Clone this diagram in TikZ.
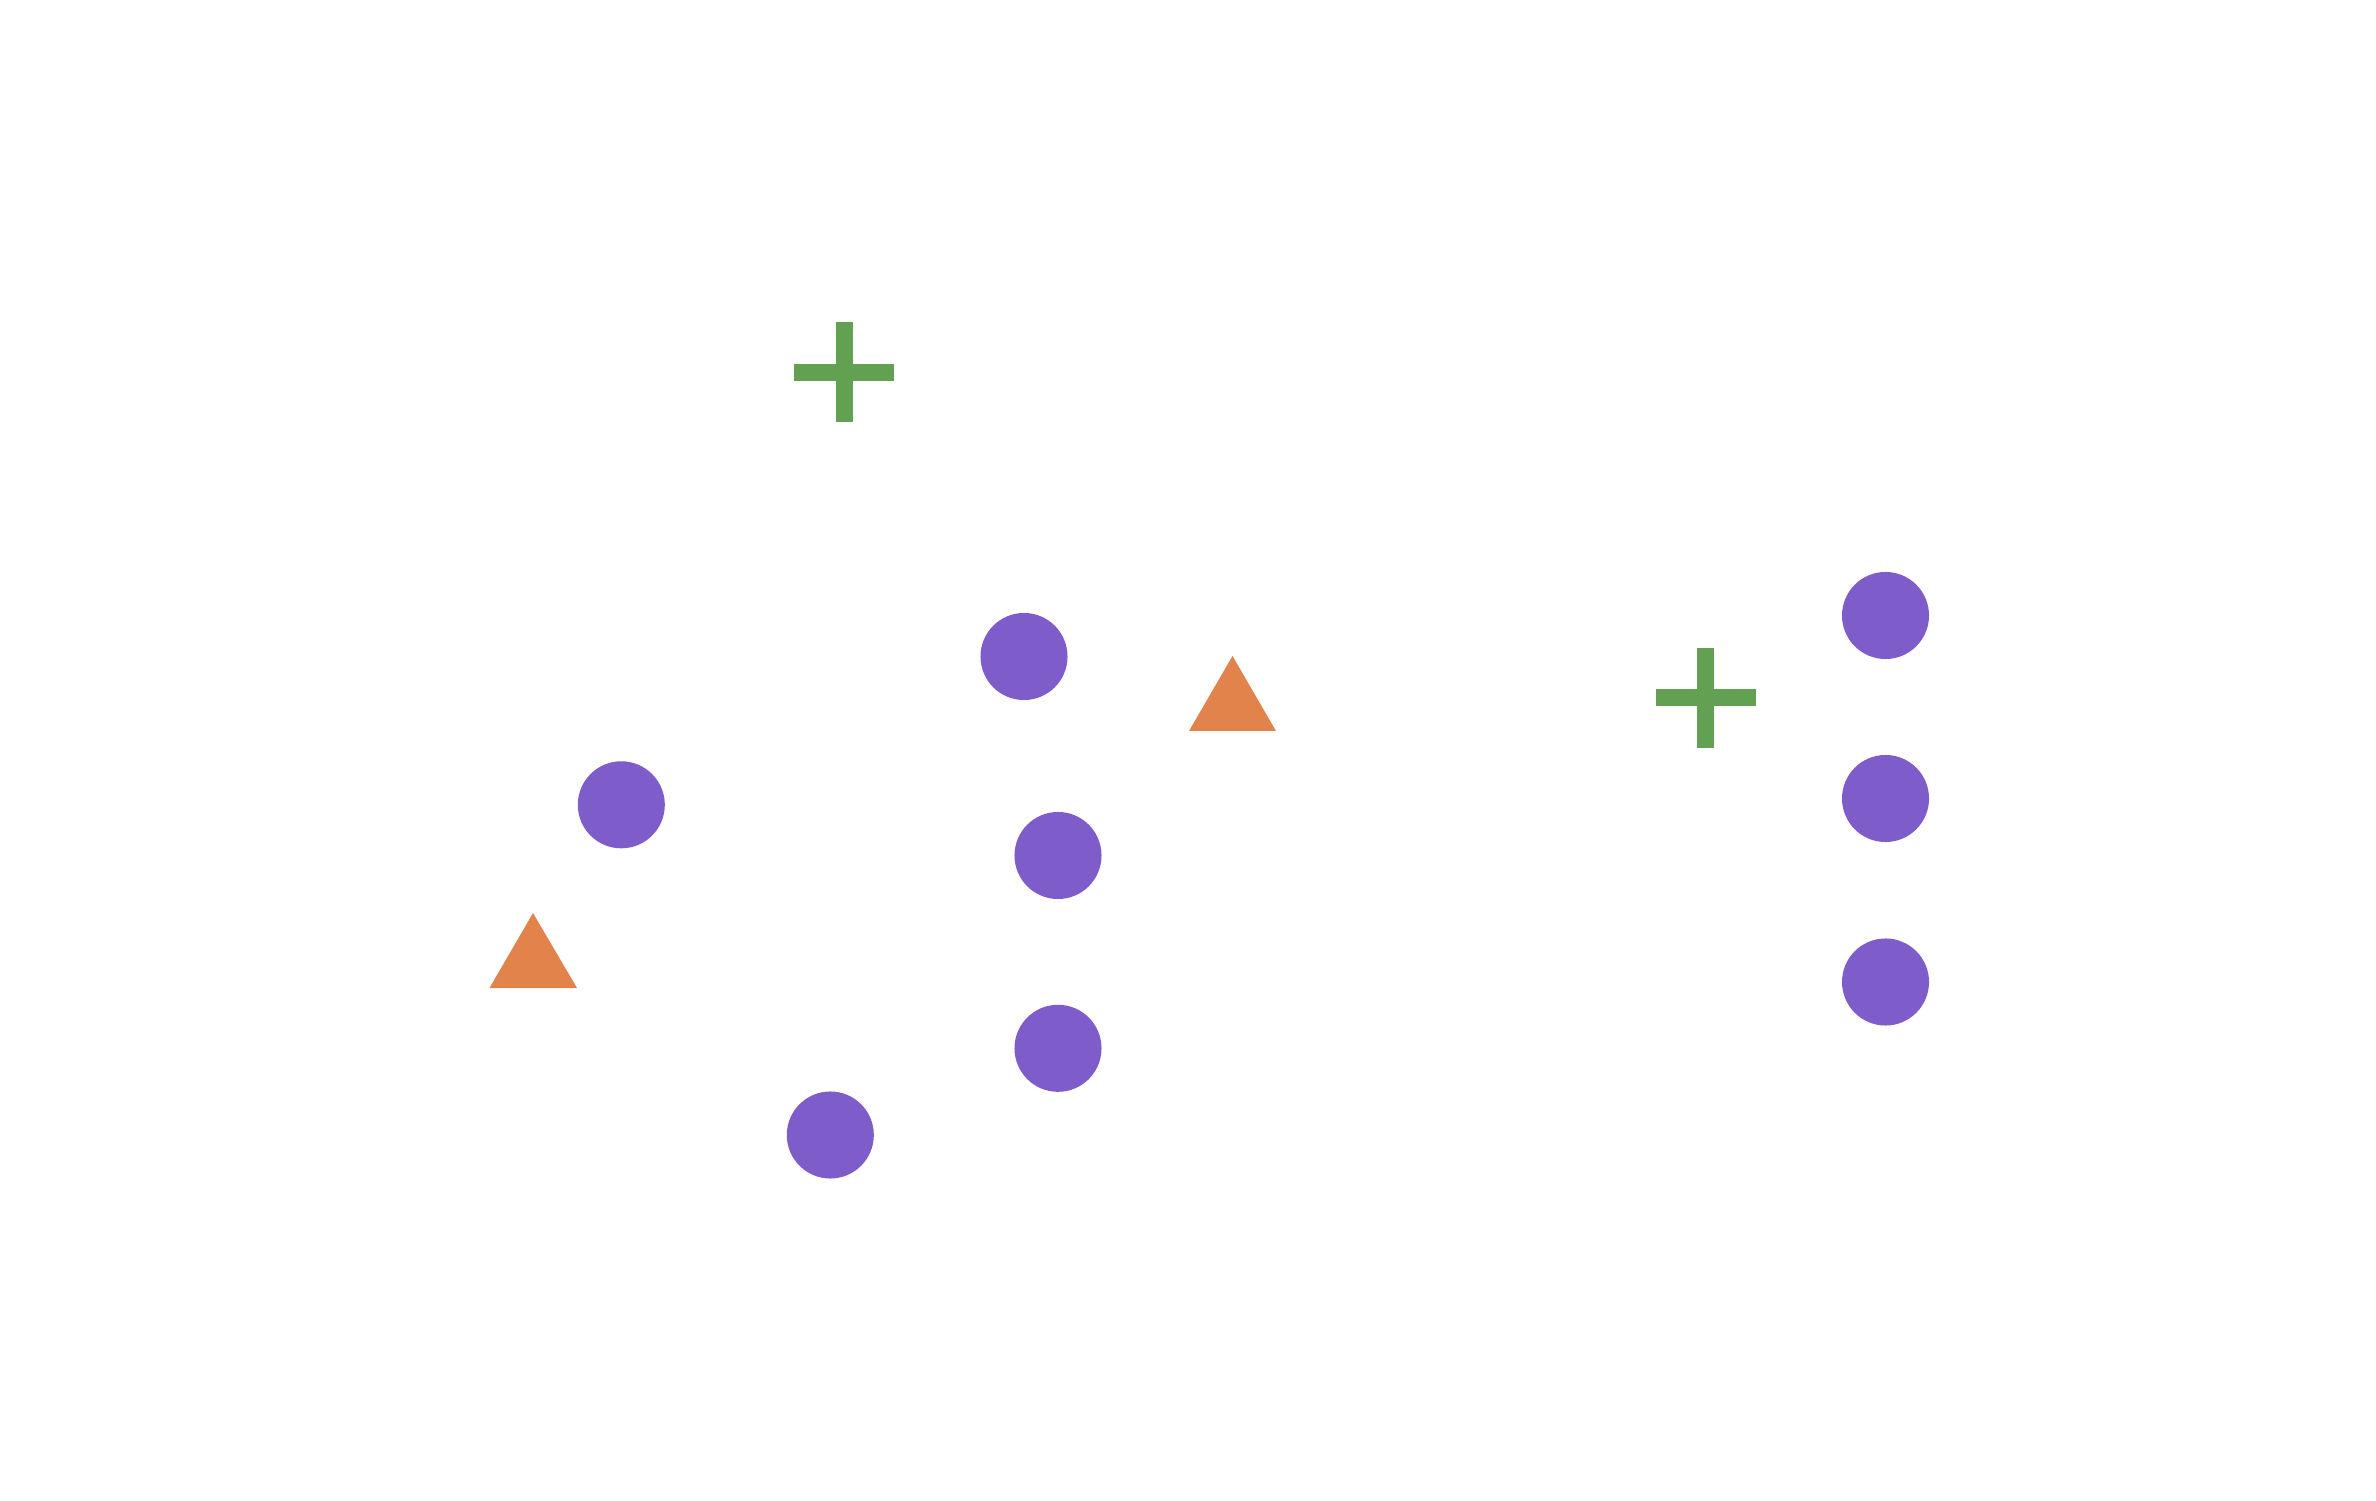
\documentclass[tikz,border=0pt]{standalone}
\definecolor{dotc}{RGB}{126,92,201}
\definecolor{tric}{RGB}{225,131,75}
\definecolor{plusc}{RGB}{98,160,82}
\tikzset{
  dotmark/.style={circle,fill=dotc,inner sep=0pt,minimum size=0.87cm,draw=none},
  trimark/.style={fill=tric},
  plusmark/.pic={
    \fill[plusc] (-50,-8.5) rectangle (50,8.5);
    \fill[plusc] (-8.5,-50) rectangle (8.5,50);
  }
}
\begin{document}
\begin{tikzpicture}[x=0.01cm,y=-0.01cm]
\useasboundingbox (0,0) rectangle (2376,1501);
\fill[white] (0,0) rectangle (2376,1501);
% plus markers
\pic at (844,372.5) {plusmark};
\pic at (1705.5,698) {plusmark};
% triangles
\fill[trimark] (1232.5,656) -- (1276,731) -- (1189,731) -- cycle;
\fill[trimark] (533,913) -- (577,988) -- (489.5,988) -- cycle;
% circles
\node[dotmark] (c1) at (1024,656.5) {};
\node[dotmark] (c2) at (621.3,804.8) {};
\node[dotmark] (c3) at (1058,855.5) {};
\node[dotmark] (c4) at (1058,1048.3) {};
\node[dotmark] (c5) at (830.3,1135) {};
\node[dotmark] (c6) at (1885.5,615.5) {};
\node[dotmark] (c7) at (1885.5,798.5) {};
\node[dotmark] (c8) at (1885.5,982) {};
\end{tikzpicture}
\end{document}
